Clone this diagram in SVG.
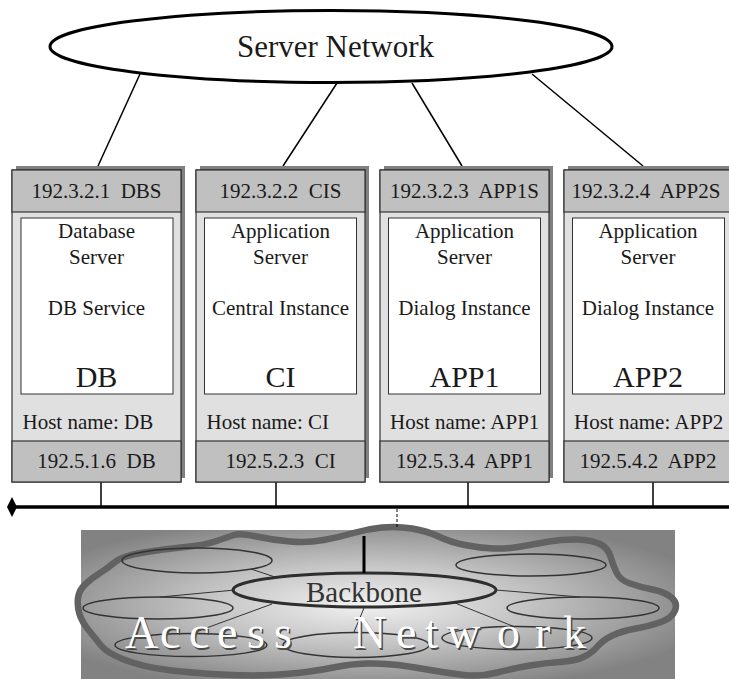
<svg xmlns="http://www.w3.org/2000/svg" width="729" height="679" viewBox="0 0 729 679">
  <defs>
    <style>
      .t { font-family: "Liberation Serif", "Times New Roman", serif; font-size: 21px; fill: #1a1a1a; white-space: pre; }
      .c { text-anchor: middle; }
      .big { font-size: 30px; }
      .shadow { fill: #808080; }
      .body { fill: #e0e0e0; stroke: #333; stroke-width: 1.2; }
      .hdr { fill: #c0c0c0; stroke: #333; stroke-width: 1.2; }
      .inner { fill: #fff; stroke: #333; stroke-width: 1; }
      .link { stroke: #000; stroke-width: 1.5; fill: none; }
      .thin { stroke: #333; stroke-width: 1; fill: none; }
      .sub { fill: none; stroke: #333; stroke-width: 1.5; }
    </style>
    <marker id="diamond" markerUnits="userSpaceOnUse" viewBox="0 0 10 20" refX="5" refY="10" markerWidth="10" markerHeight="20" orient="auto">
      <path d="M0,10 L5,0 L10,10 L5,20 Z" fill="#000"/>
    </marker>
    <radialGradient id="shade" cx="0.48" cy="0.5" r="0.6">
      <stop offset="0" stop-color="#f2f2f2"/>
      <stop offset="0.45" stop-color="#c4c4c4"/>
      <stop offset="1" stop-color="#828282"/>
    </radialGradient>
  </defs>

  <!-- server network -->
  <g id="server-network">
    <ellipse cx="331" cy="46.5" rx="281" ry="36" fill="#fff" stroke="#000" stroke-width="3"/>
    <text class="t c" x="335.5" y="57" style="font-size:31px">Server Network</text>
  </g>

  <!-- access network cloud -->
  <g id="access-network">
    <rect x="81" y="530" width="594" height="149" fill="url(#shade)"/>
    <path fill="none" stroke="#626262" stroke-width="6.5" stroke-linejoin="round"
      d="M234,535 Q240,533 256.5,536.5 Q273,540 290,541.5 Q307,543 323.5,540 Q340,537 353.5,533 Q367,529 382,527.5 Q397,526 412,528.5 Q427,531 438.5,536.5 Q450,542 465,545 Q480,548 493.5,548.5 Q507,549 521,546.5 Q535,544 549,541.5 Q563,539 577.5,539.5 Q592,540 600,544 Q608,548 610.5,556.5 Q613,565 616.5,572.5 Q620,580 630,583.5 Q640,587 652.5,589.5 Q665,592 671.5,597.5 Q678,603 675,610.5 Q672,618 661,622 Q650,626 636,628.5 Q622,631 612.5,635.5 Q603,640 597.5,646.5 Q592,653 583.5,657 Q575,661 560,662 Q545,663 530,665.5 Q515,668 497.5,672.5 Q480,677 463.5,675 Q447,673 430,670 Q413,667 398,665 Q383,663 366.5,663.5 Q350,664 336,667 Q322,670 306,672 Q290,674 270,675 Q250,676 221.5,674.5 Q193,673 168,670 Q143,667 125,660 Q107,653 101,645.5 Q95,638 88.5,630 Q82,622 79.5,614 Q77,606 78,598 Q79,590 85.5,584 Q92,578 100,573 Q108,568 115,562 Q122,556 143.5,552.5 Q165,549 185,547 Q205,545 216.5,541 Q228,537 234,535 Z"/>
    <ellipse class="sub" cx="197" cy="560.5" rx="75" ry="12.5"/>
    <ellipse class="sub" cx="158" cy="608" rx="75" ry="11"/>
    <ellipse class="sub" cx="191" cy="645" rx="76" ry="11.5"/>
    <ellipse class="sub" cx="356" cy="645" rx="73" ry="12.5"/>
    <ellipse class="sub" cx="517" cy="638" rx="75" ry="11.5"/>
    <ellipse class="sub" cx="531" cy="565" rx="75" ry="11"/>
    <ellipse class="sub" cx="583" cy="608" rx="76" ry="11"/>
    <line class="thin" x1="251" y1="569" x2="275" y2="577"/>
    <line class="thin" x1="160" y1="597" x2="235" y2="590"/>
    <line class="thin" x1="190" y1="634" x2="272" y2="604"/>
    <line class="thin" x1="354" y1="632" x2="364" y2="608"/>
    <line class="thin" x1="455" y1="603" x2="515" y2="627"/>
    <line class="thin" x1="496" y1="590" x2="580" y2="597"/>
    <ellipse cx="364.5" cy="590" rx="131.5" ry="17" fill="none" stroke="#2e2e2e" stroke-width="3"/>
    <line x1="364" y1="536" x2="364" y2="573" stroke="#000" stroke-width="3"/>
    <text class="t c" x="364" y="602" style="font-size:29px;fill:#333">Backbone</text>
    <text class="t" x="126.5 161.5 190.5 218.5 248.5 275.5 321.5 354.5 397.5 426.5 448.5 498.5 536.5 564.5" y="649.5" style="font-size:46px;fill:#4a4a4a">Access Network</text>
    <text class="t" x="125 160 189 217 247 274 320 353 396 425 447 497 535 563" y="648" style="font-size:46px;fill:#fff">Access Network</text>
  </g>

  <!-- connectors -->
  <g id="connectors">
    <line class="link" x1="140" y1="74" x2="98" y2="166"/>
    <line class="link" x1="337" y1="83" x2="283" y2="166"/>
    <line class="link" x1="412" y1="83" x2="462" y2="166"/>
    <line class="link" x1="532" y1="74" x2="643" y2="166"/>
    <line class="link" x1="101" y1="482" x2="101" y2="507"/>
    <line class="link" x1="276" y1="482" x2="276" y2="507"/>
    <line class="link" x1="468" y1="482" x2="468" y2="507"/>
    <line class="link" x1="653" y1="482" x2="653" y2="507"/>
    <line x1="12" y1="507" x2="729" y2="507" stroke="#000" stroke-width="3.5" marker-start="url(#diamond)"/>
    <line x1="397" y1="509" x2="397" y2="529" stroke="#000" stroke-width="1" stroke-dasharray="3 2"/>
  </g>

  <!-- hosts -->
  <g id="host-db" transform="translate(12,0)">
    <rect class="shadow" x="4" y="166" width="169" height="312"/>
    <rect class="body" x="0" y="170" width="169" height="312"/>
    <rect class="hdr" x="0" y="170" width="169" height="42"/>
    <rect class="hdr" x="0" y="441" width="169" height="41"/>
    <rect class="inner" x="9" y="218" width="152" height="176"/>
    <text class="t c" x="84.5" y="198">192.3.2.1  DBS</text>
    <text class="t c" x="84.5" y="238">Database</text>
    <text class="t c" x="84.5" y="264">Server</text>
    <text class="t c" x="84.5" y="315">DB Service</text>
    <text class="t c big" x="84.5" y="387">DB</text>
    <text class="t" x="10.5" y="429">Host name: DB</text>
    <text class="t c" x="84.5" y="468">192.5.1.6  DB</text>
  </g>

  <g id="host-ci" transform="translate(196,0)">
    <rect class="shadow" x="4" y="166" width="169" height="312"/>
    <rect class="body" x="0" y="170" width="169" height="312"/>
    <rect class="hdr" x="0" y="170" width="169" height="42"/>
    <rect class="hdr" x="0" y="441" width="169" height="41"/>
    <rect class="inner" x="8.5" y="218" width="152" height="176"/>
    <text class="t c" x="84.5" y="198">192.3.2.2  CIS</text>
    <text class="t c" x="84.5" y="238">Application</text>
    <text class="t c" x="84.5" y="264">Server</text>
    <text class="t c" x="84.5" y="315">Central Instance</text>
    <text class="t c big" x="84.5" y="387">CI</text>
    <text class="t" x="10.5" y="429">Host name: CI</text>
    <text class="t c" x="84.5" y="468">192.5.2.3  CI</text>
  </g>

  <g id="host-app1" transform="translate(380,0)">
    <rect class="shadow" x="4" y="166" width="169" height="312"/>
    <rect class="body" x="0" y="170" width="169" height="312"/>
    <rect class="hdr" x="0" y="170" width="169" height="42"/>
    <rect class="hdr" x="0" y="441" width="169" height="41"/>
    <rect class="inner" x="8.5" y="218" width="152" height="176"/>
    <text class="t c" x="84.5" y="198">192.3.2.3  APP1S</text>
    <text class="t c" x="84.5" y="238">Application</text>
    <text class="t c" x="84.5" y="264">Server</text>
    <text class="t c" x="84.5" y="315">Dialog Instance</text>
    <text class="t c big" x="84.5" y="387">APP1</text>
    <text class="t" x="10" y="429">Host name: APP1</text>
    <text class="t c" x="84.5" y="468">192.5.3.4  APP1</text>
  </g>

  <g id="host-app2" transform="translate(564,0)">
    <rect class="shadow" x="4" y="166" width="169" height="312"/>
    <rect class="body" x="0" y="170" width="169" height="312"/>
    <rect class="hdr" x="0" y="170" width="169" height="42"/>
    <rect class="hdr" x="0" y="441" width="169" height="41"/>
    <rect class="inner" x="8.5" y="218" width="152" height="176"/>
    <text class="t c" x="82" y="198">192.3.2.4  APP2S</text>
    <text class="t c" x="84" y="238">Application</text>
    <text class="t c" x="84" y="264">Server</text>
    <text class="t c" x="84" y="315">Dialog Instance</text>
    <text class="t c big" x="84" y="387">APP2</text>
    <text class="t" x="10" y="429">Host name: APP2</text>
    <text class="t c" x="84" y="468">192.5.4.2  APP2</text>
  </g>
</svg>
